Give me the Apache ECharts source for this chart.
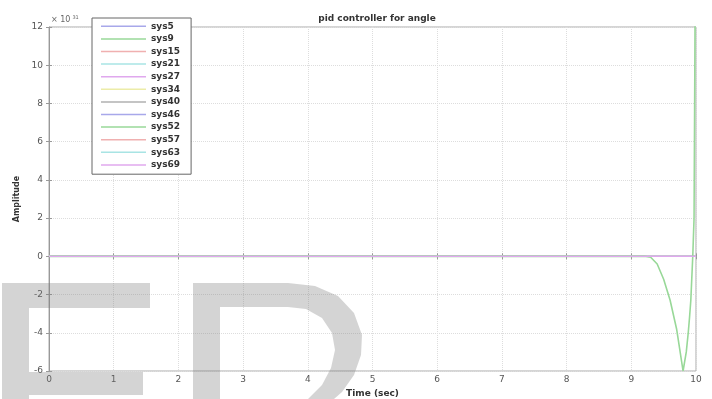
<!DOCTYPE html>
<html>
<head>
<meta charset="utf-8">
<script src="https://cdn.jsdelivr.net/npm/echarts@6/dist/echarts.min.js"></script>
<style>html,body{margin:0;padding:0;background:#fff}#c{width:712px;height:399px}</style>
</head>
<body>
<div id="c"></div>
<script>
const seriesNames = ['sys5','sys9','sys15','sys21','sys27','sys34','sys40','sys46','sys52','sys57','sys63','sys69'];
const seriesColors = ['#a8a8ea','#98d898','#f0b0b0','#a8e4e4','#e0a8ee','#ececa8','#b0b0b0','#a8a8ea','#98d898','#f0b0b0','#a8e4e4','#e0a8ee'];
const flatTime = [0, 10];
const flatValues = [0, 0];
const sys52Time = [0, 9.0, 9.2, 9.3, 9.4, 9.5, 9.6, 9.7, 9.75, 9.8, 9.85, 9.88, 9.9, 9.92, 9.95, 9.97, 9.985, 10.0];
const sys52Values = [0, 0, 0, -0.05, -0.4, -1.2, -2.3, -3.8, -4.9, -6.0, -5.0, -4.0, -3.2, -2.3, 0, 2, 12, 14];
const xTicks = [0,1,2,3,4,5,6,7,8,9,10];
const yTicks = [-6,-4,-2,0,2,4,6,8,10,12];

const chart = echarts.init(document.getElementById('c'));
const font = 'DejaVu Sans, sans-serif';
const pairs = (xs, ys) => xs.map((x, i) => [x, ys[i]]);

const series = seriesNames.map((name, i) => ({
  name: name,
  type: 'line',
  showSymbol: false,
  clip: true,
  z: name === 'sys52' ? 3 : (name === 'sys69' ? 4 : 2),
  lineStyle: { width: name === 'sys52' ? 1.6 : 1.3, color: seriesColors[i] },
  itemStyle: { color: seriesColors[i] },
  data: name === 'sys52' ? pairs(sys52Time, sys52Values) : pairs(flatTime, flatValues)
}));

const wm = 'rgba(120,120,120,0.32)';
const bowl = [[288,283],[315,286],[338,296],[354,313],[362,335],[361,355],[354,375],[342,392],[334,399],
              [308,399],[322,385],[331,368],[335,350],[332,333],[322,318],[306,309],[288,307]];
const tickStyle = { show: true, inside: true, length: 3, lineStyle: { color: '#999' } };
chart.setOption({
  animation: false,
  backgroundColor: '#fff',
  title: {
    text: 'pid controller for angle', left: 372, top: 9, textAlign: 'center',
    textStyle: { fontFamily: font, fontSize: 9, fontWeight: 'bold', color: '#333' }
  },
  grid: { left: 49, right: 16, top: 27, bottom: 28, outerBoundsMode: 'none', containLabel: false,
    show: true, borderColor: '#aaa', borderWidth: 1 },
  legend: {
    data: seriesNames, orient: 'vertical', left: 92, top: 18,
    icon: 'rect', itemWidth: 45, itemHeight: 1.5, itemGap: 0,
    padding: [2, 11, 3, 9],
    borderColor: '#666', borderWidth: 1, backgroundColor: '#fff',
    textStyle: { fontFamily: font, fontSize: 9, fontWeight: 'bold', color: '#333', lineHeight: 12.6 }
  },
  xAxis: [{
    type: 'value', min: 0, max: 10, interval: 1,
    name: 'Time (sec)', nameLocation: 'middle', nameGap: 15,
    nameTextStyle: { fontFamily: font, fontSize: 9, fontWeight: 'bold', color: '#333' },
    axisLine: { show: true, lineStyle: { color: '#999' } },
    axisTick: tickStyle,
    axisLabel: { fontFamily: font, fontSize: 9, color: '#555', margin: 4,
      formatter: v => xTicks.includes(v) ? String(v) : '' },
    splitLine: { show: true, lineStyle: { color: '#ddd', type: 'dotted' } }
  }, {
    type: 'value', min: 0, max: 10, interval: 1, position: 'top',
    axisLine: { show: false }, axisTick: tickStyle, axisLabel: { show: false }, splitLine: { show: false }
  }],
  yAxis: [{
    type: 'value', min: -6, max: 12, interval: 2,
    name: 'Amplitude', nameLocation: 'middle', nameGap: 25,
    nameTextStyle: { fontFamily: font, fontSize: 8, fontWeight: 'bold', color: '#333' },
    axisLine: { show: true, lineStyle: { color: '#999' } },
    axisTick: tickStyle,
    axisLabel: { fontFamily: font, fontSize: 9, color: '#555', margin: 6,
      formatter: v => yTicks.includes(v) ? String(v) : '' },
    splitLine: { show: true, lineStyle: { color: '#ddd', type: 'dotted' } }
  }, {
    type: 'value', min: -6, max: 12, interval: 2, position: 'right',
    axisLine: { show: false }, axisTick: tickStyle, axisLabel: { show: false }, splitLine: { show: false }
  }],
  graphic: [
    { type: 'text', x: 51, y: 15, z: 10,
      style: { text: '{a|× 10}{b|31}', rich: {
        a: { fontFamily: font, fontSize: 8, fill: '#666' },
        b: { fontFamily: font, fontSize: 5, fill: '#666', verticalAlign: 'top', padding: [0,0,5,2] } } } },
    { type: 'rect', z: 100, silent: true, shape: { x: 2, y: 283, width: 148, height: 25 }, style: { fill: wm } },
    { type: 'rect', z: 100, silent: true, shape: { x: 2, y: 308, width: 27, height: 91 }, style: { fill: wm } },
    { type: 'rect', z: 100, silent: true, shape: { x: 29, y: 372, width: 114, height: 23 }, style: { fill: wm } },
    { type: 'rect', z: 100, silent: true, shape: { x: 193, y: 283, width: 27, height: 116 }, style: { fill: wm } },
    { type: 'rect', z: 100, silent: true, shape: { x: 220, y: 283, width: 68, height: 24 }, style: { fill: wm } },
    { type: 'polygon', z: 100, silent: true, shape: { points: bowl }, style: { fill: wm } }
  ],
  series: series
});
</script>
</body>
</html>
